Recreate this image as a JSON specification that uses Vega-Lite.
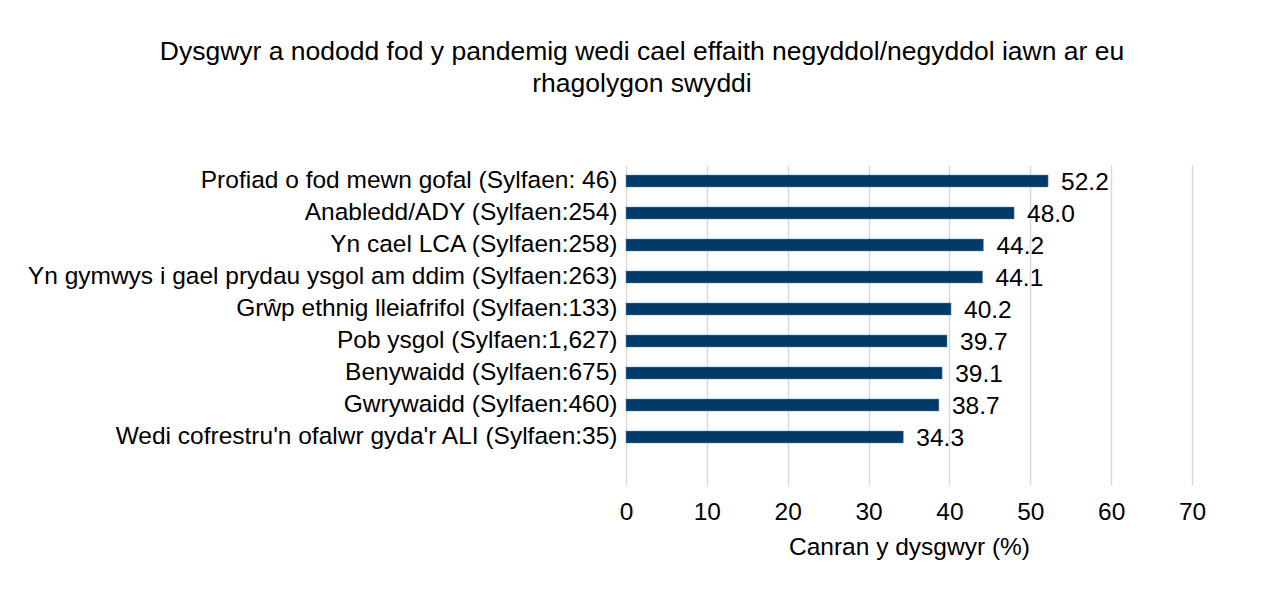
{
  "$schema": "https://vega.github.io/schema/vega-lite/v6.json",
  "width": 566,
  "height": 320,
  "autosize": {"type": "none"},
  "padding": {"left": 626, "top": 165, "right": 72, "bottom": 104},
  "background": "white",
  "config": {
    "font": "Liberation Sans",
    "view": {"stroke": null}
  },
  "title": {
    "text": ["Dysgwyr a nododd fod y pandemig  wedi cael effaith negyddol/negyddol iawn ar eu", "rhagolygon swyddi"],
    "anchor": "middle",
    "frame": "group",
    "dx": -267,
    "offset": 68,
    "fontSize": 26.5,
    "fontWeight": "normal",
    "font": "Liberation Sans",
    "color": "#000000",
    "lineHeight": 32
  },
  "data": {
    "values": [
      {"group": "Profiad o fod mewn gofal (Sylfaen: 46)", "value": 52.2},
      {"group": "Anabledd/ADY (Sylfaen:254)", "value": 48.0},
      {"group": "Yn cael LCA (Sylfaen:258)", "value": 44.2},
      {"group": "Yn gymwys i gael prydau ysgol am ddim (Sylfaen:263)", "value": 44.1},
      {"group": "Grŵp ethnig lleiafrifol (Sylfaen:133)", "value": 40.2},
      {"group": "Pob ysgol (Sylfaen:1,627)", "value": 39.7},
      {"group": "Benywaidd (Sylfaen:675)", "value": 39.1},
      {"group": "Gwrywaidd (Sylfaen:460)", "value": 38.7},
      {"group": "Wedi cofrestru'n ofalwr gyda'r ALI (Sylfaen:35)", "value": 34.3}
    ]
  },
  "encoding": {
    "y": {
      "field": "group",
      "type": "nominal",
      "sort": null,
      "scale": {
        "domain": [
          "Profiad o fod mewn gofal (Sylfaen: 46)",
          "Anabledd/ADY (Sylfaen:254)",
          "Yn cael LCA (Sylfaen:258)",
          "Yn gymwys i gael prydau ysgol am ddim (Sylfaen:263)",
          "Grŵp ethnig lleiafrifol (Sylfaen:133)",
          "Pob ysgol (Sylfaen:1,627)",
          "Benywaidd (Sylfaen:675)",
          "Gwrywaidd (Sylfaen:460)",
          "Wedi cofrestru'n ofalwr gyda'r ALI (Sylfaen:35)",
          " "
        ],
        "paddingInner": 0,
        "paddingOuter": 0
      },
      "axis": {
        "title": null,
        "domain": false,
        "ticks": false,
        "labelPadding": 9,
        "labelFontSize": 24.5,
        "labelColor": "#000000",
        "labelFont": "Liberation Sans",
        "labelLimit": 800
      }
    },
    "x": {
      "field": "value",
      "type": "quantitative",
      "scale": {"domain": [0, 70], "nice": false},
      "axis": {
        "title": "Canran y dysgwyr (%)",
        "titleFontSize": 24.5,
        "titleFontWeight": "normal",
        "titleColor": "#000000",
        "titleFont": "Liberation Sans",
        "titlePadding": 12,
        "values": [0, 10, 20, 30, 40, 50, 60, 70],
        "domain": false,
        "ticks": false,
        "grid": true,
        "gridColor": "#D9D9D9",
        "gridWidth": 1.5,
        "labelFlush": false,
        "labelPadding": 15,
        "labelFontSize": 24.5,
        "labelColor": "#000000",
        "labelFont": "Liberation Sans"
      }
    }
  },
  "layer": [
    {
      "mark": {"type": "bar", "size": 12, "color": "#003A69", "stroke": "#6F8FAF", "strokeWidth": 0.5}
    },
    {
      "mark": {"type": "text", "align": "left", "baseline": "middle", "dx": 13, "dy": 2, "fontSize": 24.5, "color": "#000000", "font": "Liberation Sans"},
      "encoding": {
        "text": {"field": "value", "type": "quantitative", "format": ".1f"}
      }
    }
  ]
}
